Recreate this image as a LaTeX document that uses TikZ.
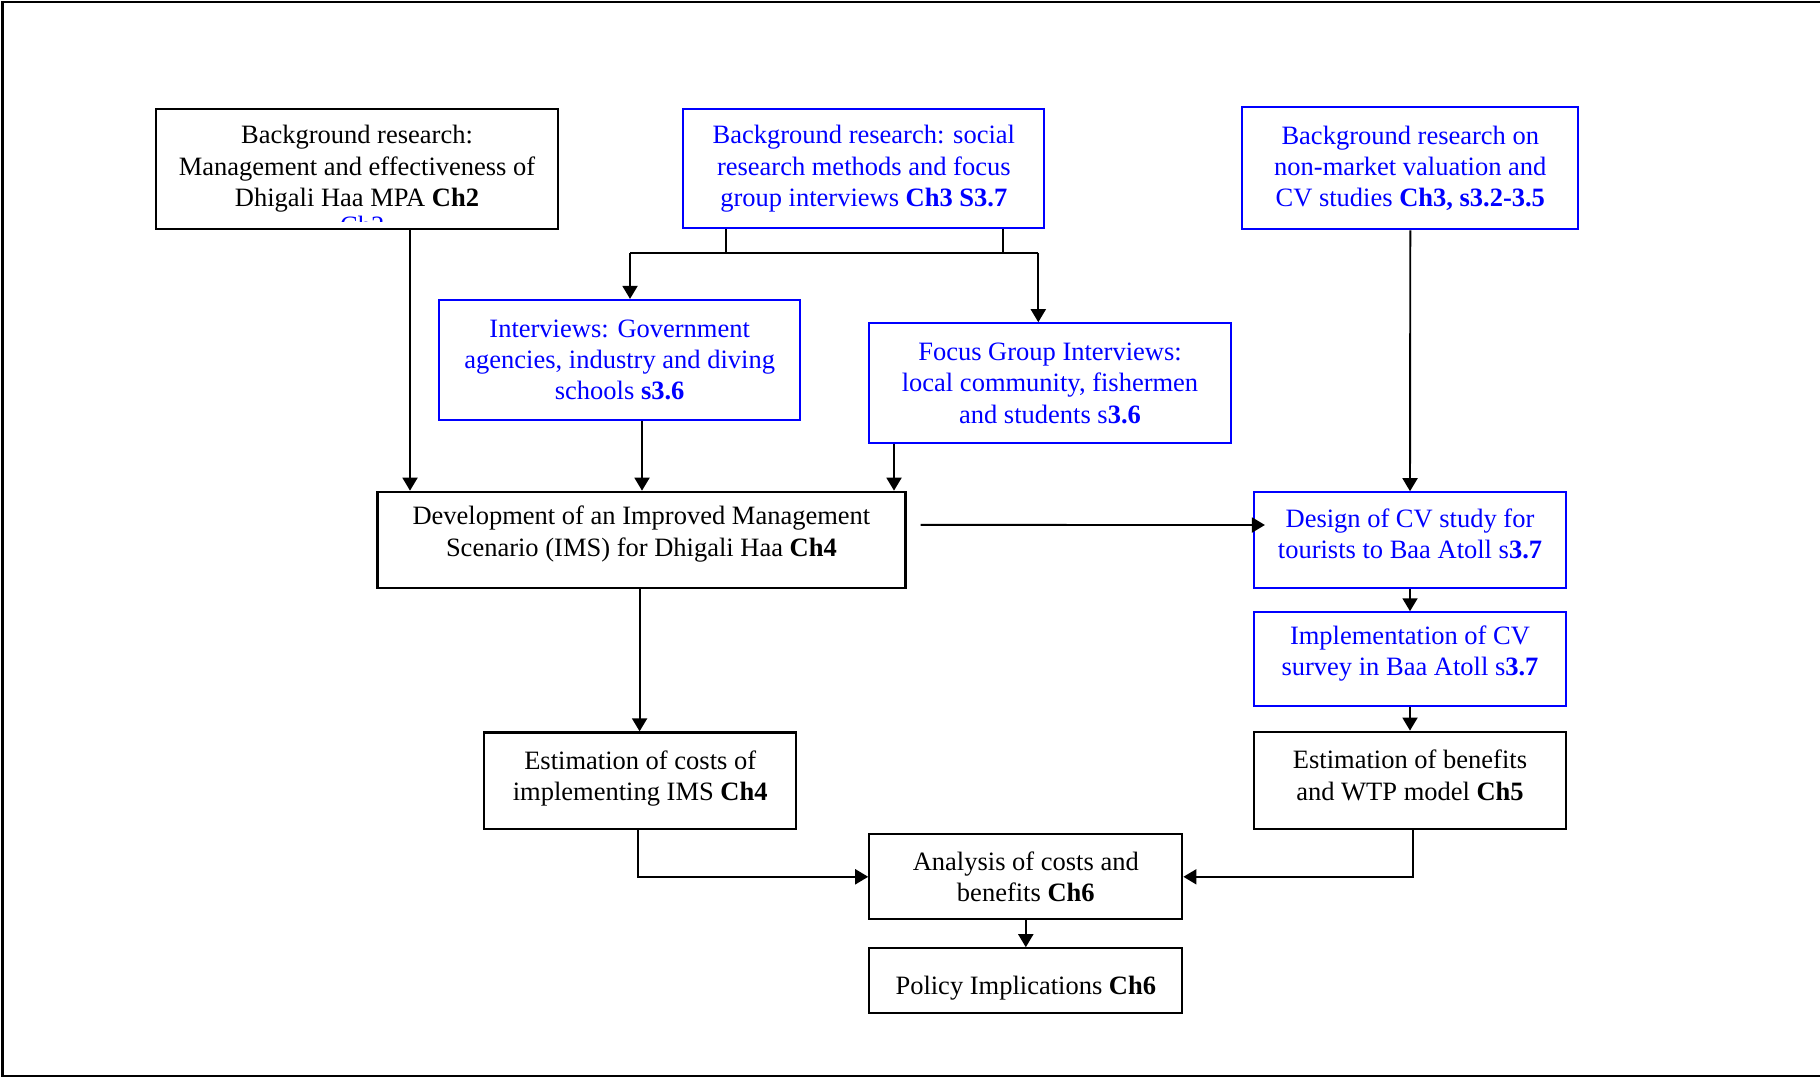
\documentclass[tikz,border=0pt]{standalone}
\usepackage{fontspec}
\setmainfont{Liberation Serif}
\usetikzlibrary{arrows.meta}
\definecolor{linkblue}{RGB}{0,0,255}
\begin{document}
\begin{tikzpicture}[x=1pt,y=-1pt,
  box/.style={draw=black, line width=2.2pt, align=center, inner sep=0pt,
    font=\fontsize{26.5}{31.3}\selectfont},
  bluebox/.style={box, draw=linkblue, text=linkblue},
  txt/.style={align=center, inner sep=0pt, font=\fontsize{26.5}{31.3}\selectfont},
  bluetxt/.style={txt, text=linkblue},
  arr/.style={line width=1.9pt, -{Triangle[length=13pt,width=15pt]}},
  ln/.style={line width=1.9pt}]
\useasboundingbox (0,0) rectangle (1820,1078);
% outer frame (open on the right)
\draw[line width=2.5pt] (1820,2) -- (2.5,2) -- (2.5,1076) -- (1820,1076);

% boxes
\node[box, minimum width=402.6, minimum height=119.7] (bg1) at (357,168.9)
  {Background research:\\Management and effectiveness of\\Dhigali Haa MPA \textbf{Ch2}};
\begin{scope}
  \clip (160,200) rectangle (550,221.5);
  \node[text=linkblue, inner sep=0pt, anchor=base west,
    font=\fontsize{26.5}{31.3}\selectfont] (bg1-extra) at (340,234) {Ch2};
\end{scope}
\node[bluebox, minimum width=361, minimum height=119.3] (bg2) at (863.8,168.7)
  {Background research: social\\research methods and focus\\group interviews \textbf{Ch3 S3.7}};
\node[bluebox, minimum width=336, minimum height=122] (bg3) at (1410.3,168.3)
  {Background research on\\non-market valuation and\\CV studies \textbf{Ch3, s3.2-3.5}};
\node[bluebox, minimum width=360.7, minimum height=120] (intv) at (619.7,360)
  {Interviews: Government\\agencies, industry and diving\\schools \textbf{s3.6}};
\node[bluebox, minimum width=361.4, minimum height=120] (focus) at (1050,383.3)
  {Focus Group Interviews:\\local community, fishermen\\and students s\textbf{3.6}};

% boxes whose text sits a little above centre
\node[box, minimum width=528, minimum height=96.3] (ims) at (641.4,539.9) {};
\node[txt] (ims-t) at ([yshift=6pt]ims.center)
  {Development of an Improved Management\\Scenario (IMS) for Dhigali Haa \textbf{Ch4}};
\node[bluebox, minimum width=312, minimum height=95.4] (design) at (1410,540) {};
\node[bluetxt] (design-t) at ([yshift=6pt]design.center)
  {Design of CV study for\\tourists to Baa Atoll s\textbf{3.7}};
\node[bluebox, minimum width=312, minimum height=93.7] (impl) at (1410,659.2) {};
\node[bluetxt] (impl-t) at ([yshift=6pt]impl.center)
  {Implementation of CV\\survey in Baa Atoll s\textbf{3.7}};
\node[box, minimum width=312, minimum height=97.6] (estb) at (1410,780.5) {};
\node[txt] (estb-t) at ([yshift=5pt]estb.center)
  {Estimation of benefits\\and WTP model \textbf{Ch5}};
\node[box, minimum width=312.3, minimum height=96.3] (estc) at (640.2,780.6) {};
\node[txt] (estc-t) at ([yshift=2pt]estc.center)
  {Estimation of costs of\\implementing IMS \textbf{Ch4}};
\node[box, minimum width=313, minimum height=85] (anal) at (1025.8,876.8)
  {Analysis of costs and\\benefits \textbf{Ch6}};
\node[box, minimum width=313, minimum height=65] (pol) at (1025.8,980.8) {};
\node[txt] (pol-t) at ([yshift=-7pt]pol.center) {Policy Implications \textbf{Ch6}};

% guide coordinates for connector columns and rows
\coordinate (xa) at (410,0);
\coordinate (xb) at (726,0);
\coordinate (xc) at (1002.7,0);
\coordinate (xd) at (630,0);
\coordinate (xe) at (1038.3,0);
\coordinate (xf) at (642,0);
\coordinate (xg) at (894,0);
\coordinate (xh) at (639.6,0);
\coordinate (xi) at (638.4,0);
\coordinate (xj) at (1412.7,0);
\coordinate (split) at (0,252.7);

% connectors
\draw[arr] (bg1.south -| xa) -- (ims.north -| xa);
\draw[ln] (bg2.south -| xb) -- (split -| xb);
\draw[ln] (bg2.south -| xc) -- (split -| xc);
\draw[ln] (split -| xd) -- (split -| xe);
\draw[arr] (split -| xd) -- (intv.north -| xd);
\draw[arr] (split -| xe) -- (focus.north -| xe);
\draw[arr] (intv.south -| xf) -- (ims.north -| xf);
\draw[arr] (focus.south -| xg) -- (ims.north -| xg);
\draw[arr] (bg3.south) -- (design.north);
\draw[arr, shorten <=14pt, shorten >=-12pt] ([yshift=15pt]ims.east) -- ([yshift=15pt]design.west);
\draw[arr] (design.south) -- (impl.north);
\draw[arr] (impl.south) -- (estb.north);
\draw[arr] (ims.south -| xh) -- (estc.north -| xh);
\draw[arr] (estc.south -| xi) |- (anal.west);
\draw[arr] (estb.south -| xj) |- (anal.east);
\draw[arr] (anal.south) -- (pol.north);
\end{tikzpicture}
\end{document}
